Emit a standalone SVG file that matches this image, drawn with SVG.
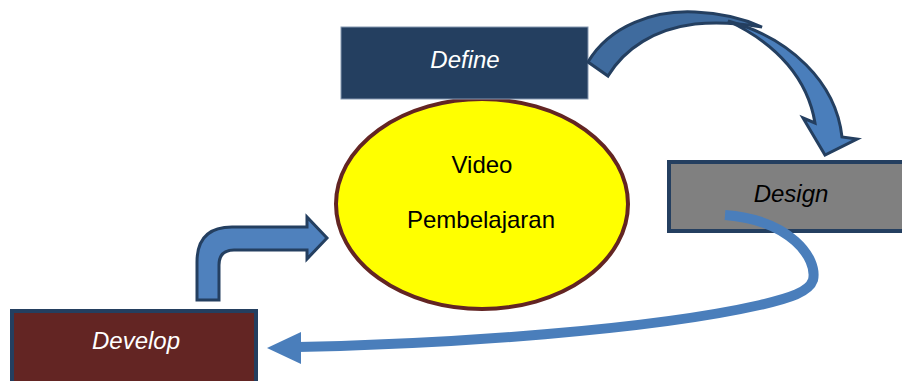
<svg xmlns="http://www.w3.org/2000/svg" width="902" height="381" viewBox="0 0 902 381">
<style>
.lbl{font-family:"Liberation Sans",Arial,sans-serif;font-size:24px;text-anchor:middle}
.it{font-style:italic}
.blk{stroke:#243F60;stroke-width:3;stroke-linejoin:miter}
</style>
<rect width="902" height="381" fill="#ffffff"/>
<g id="video">
  <ellipse cx="482" cy="204" rx="146" ry="105" fill="#FFFF00" stroke="#632523" stroke-width="4"/>
  <text class="lbl" x="482" y="173" fill="#000">Video</text>
  <text class="lbl" x="481" y="228" fill="#000">Pembelajaran</text>
</g>
<g id="define">
  <rect x="341" y="27" width="247" height="72" fill="#243F60" stroke="#8497B0" stroke-width="1"/>
  <text class="lbl it" x="465" y="68" fill="#ffffff">Define</text>
</g>
<g id="design">
  <rect x="669" y="162" width="240" height="69" fill="#808080" stroke="#243F60" stroke-width="4"/>
  <text class="lbl it" x="791" y="202" fill="#000">Design</text>
</g>
<g id="develop">
  <rect x="12" y="311" width="244" height="80" fill="#632523" stroke="#243F60" stroke-width="4"/>
  <text class="lbl it" x="136" y="349" fill="#ffffff">Develop</text>
</g>
<g id="connectors">
  <path d="M725 215 C790 220 818 258 813 280 C809 292 790 298 760 305 C650 330 450 344 298 347" fill="none" stroke="#4A7EBB" stroke-width="10"/>
  <polygon points="267,348 301,332 301,364" fill="#4A7EBB"/>
  <path class="blk" d="M197 300 L197 262 Q197 227 232 227 L307 227 L307 217 L327 238 L307 259 L307 250 L234 250 Q219 250 219 265 L219 300 Z" fill="#4F81BD"/>
  <path class="blk" d="M588 62 C610 25 655 10 695 12 C720 13 742 18 762 27 C738 23 715 22 695 24 C655 29 625 48 608 76 Z" fill="#3F6B9E"/>
  <path class="blk" d="M728 21 C790 38 836 82 842 137 L857 139 L825 155 L803 118 L815 123 C808 80 778 44 728 21 Z" fill="#4A7EBB"/>
</g>
</svg>
